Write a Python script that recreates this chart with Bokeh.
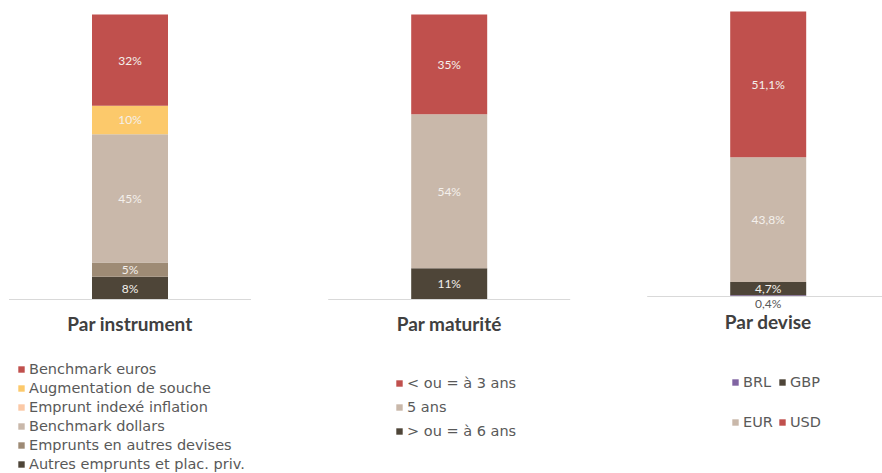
from bokeh.plotting import figure
from bokeh.models import Legend, LegendItem, Range1d
from bokeh.layouts import row
from bokeh.embed import file_html
from bokeh.resources import INLINE
from bokeh.core.properties import value
import numpy as np

# ---------------- data ----------------
# stacking order: bottom -> top
instr_series = ["Autres emprunts et plac. priv.", "Emprunts en autres devises",
                "Benchmark dollars", "Emprunt indexé inflation",
                "Augmentation de souche", "Benchmark euros"]
instr_values = [8, 5, 45, 0, 10, 32]
instr_colors = ["#4E4538", "#9E8B75", "#C9B8AA", "#FBC9A6", "#FCC96B", "#C0504D"]
instr_title = "Par instrument"

mat_series = ["> ou = à 6 ans", "5 ans", "< ou = à 3 ans"]
mat_values = [11, 54, 35]
mat_colors = ["#4E4538", "#C9B8AA", "#C0504D"]
mat_title = "Par maturité"

dev_series = ["BRL", "GBP", "EUR", "USD"]
dev_values = [0.4, 4.7, 43.8, 51.1]
dev_colors = ["#8064A2", "#4E4538", "#C9B8AA", "#C0504D"]
dev_title = "Par devise"

FONT = "Lato"
LEG_FONT = "DejaVu Sans"
PX_PER_PCT = 2.85
FIG_W, FIG_H = 294, 473


def make_panel(series, vals, colors, base_px, center_px):
    p = figure(width=FIG_W, height=FIG_H, output_backend="svg", toolbar_location=None,
               x_range=Range1d(-center_px, FIG_W - center_px),
               y_range=Range1d(-(FIG_H - base_px) / PX_PER_PCT, base_px / PX_PER_PCT),
               min_border=0, outline_line_color=None)
    p.axis.visible = False
    p.grid.visible = False
    vals = np.array(vals, dtype=float)
    tops = np.cumsum(vals)
    bottoms = tops - vals
    renderers = []
    for s, b, t, c in zip(series, bottoms, tops, colors):
        r = p.vbar(x=[0], bottom=[b], top=[t], width=76, fill_color=c, line_color=None)
        renderers.append(r)
    p.segment(x0=[-121], y0=[0], x1=[121], y1=[0], line_color="#D9D9D9", line_width=1.2)
    return p, renderers, bottoms, tops


def add_title(p, txt, off):
    p.text(x=[0], y=[0], y_offset=off, text=[txt], text_align="center", text_baseline="middle",
           text_color="#404040", text_font=value(FONT), text_font_size="19px", text_font_style="bold")


def add_labels(p, xs, ys, txt, color="#F4F0EC", yoff=0):
    p.text(x=xs, y=ys, y_offset=yoff, text=txt, text_align="center", text_baseline="middle",
           text_color=color, text_font=value(FONT), text_font_size="12px")


# ---------- panel 1 ----------
lab1 = [f"{v:g}%" for v in instr_values]
p1, r1, b1, t1 = make_panel(instr_series, instr_values, instr_colors, 299, 129.5)
mask = [v > 0 for v in instr_values]
add_labels(p1, [0] * sum(mask), [(b + t) / 2 for b, t, m in zip(b1, t1, mask) if m],
           [l for l, m in zip(lab1, mask) if m])
add_title(p1, instr_title, 24)
leg1 = Legend(items=[LegendItem(label=s, renderers=[r]) for s, r in zip(instr_series[::-1], r1[::-1])],
              location=(17, 1))

# ---------- panel 2 ----------
lab2 = [f"{v:g}%" for v in mat_values]
p2, r2, b2, t2 = make_panel(mat_series, mat_values, mat_colors, 299, 154.7)
add_labels(p2, [0] * len(mat_values), list((b2 + t2) / 2), lab2)
add_title(p2, mat_title, 24)
leg2 = Legend(items=[LegendItem(label=s, renderers=[r]) for s, r in zip(mat_series[::-1], r2[::-1])],
              location=(101, 34))

# ---------- panel 3 ----------
lab3 = [f"{v:.1f}".replace(".", ",") + "%" for v in dev_values]
p3, r3, b3, t3 = make_panel(dev_series, dev_values, dev_colors, 296, 179.7)
add_labels(p3, [0] * 3, list((b3 + t3)[1:] / 2), lab3[1:])
add_labels(p3, [0], [0], lab3[:1], color="#595959", yoff=7)
add_title(p3, dev_title, 25)
leg3a = Legend(items=[LegendItem(label=dev_series[0], renderers=[r3[0]]),
                      LegendItem(label=dev_series[1], renderers=[r3[1]])],
               location=(143, 83), orientation="horizontal")
leg3b = Legend(items=[LegendItem(label=dev_series[2], renderers=[r3[2]]),
                      LegendItem(label=dev_series[3], renderers=[r3[3]])],
               location=(143, 43), orientation="horizontal")

for lg, sp in [(leg1, 3), (leg2, 8), (leg3a, 0), (leg3b, 0)]:
    lg.padding = 0
    lg.margin = 0
    lg.spacing = sp
    lg.border_line_color = None
    lg.background_fill_alpha = 0
    lg.glyph_width = 8
    lg.glyph_height = 8
    lg.label_standoff = 4
    lg.label_height = 14
    lg.label_text_font = LEG_FONT
    lg.label_text_font_size = "14.5px"
    lg.label_text_color = "#595959"
    lg.label_text_baseline = "middle"
for lg in (leg3a, leg3b):
    lg.label_width = 35

p1.add_layout(leg1)
p2.add_layout(leg2)
p3.add_layout(leg3a)
p3.add_layout(leg3b)

layout = row(p1, p2, p3)
open("out.html", "w").write(file_html(layout, INLINE))
